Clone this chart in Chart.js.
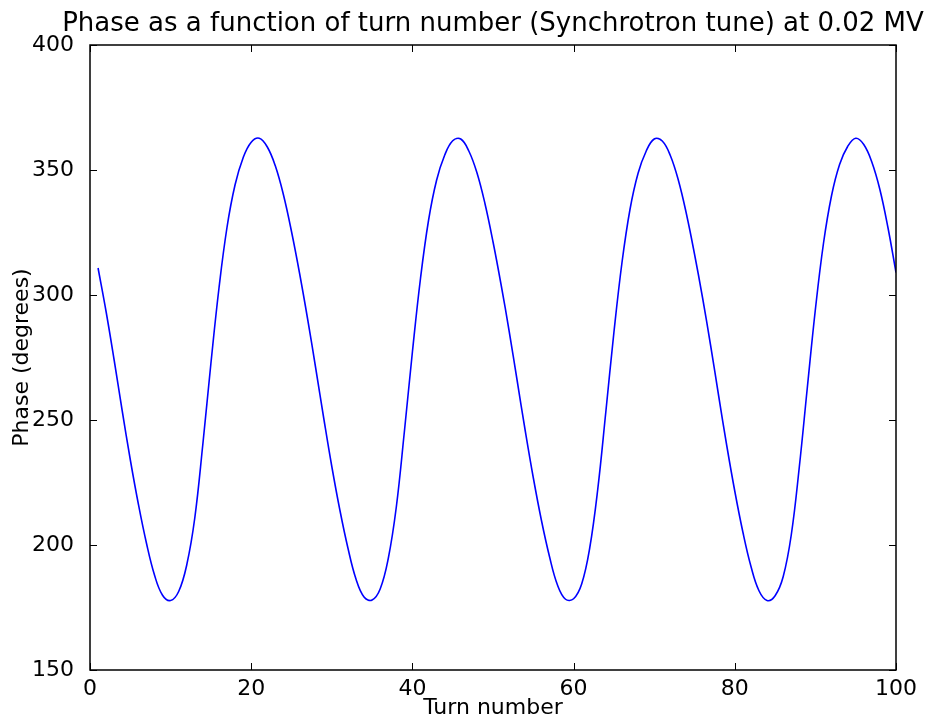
<!DOCTYPE html>
<html><head><meta charset="utf-8">
<script src="https://cdn.jsdelivr.net/npm/chart.js@4/dist/chart.umd.min.js"></script>
<style>html,body{margin:0;padding:0;background:#fff;overflow:hidden}</style>
</head><body>
<canvas id="c" width="927" height="719"></canvas>
<script>
const turns = [1,2,3,4,5,6,7,8,9,10,11,12,13,14,15,16,17,18,19,20,
  21,22,23,24,25,26,27,28,29,30,31,32,33,34,35,36,37,38,39,40,
  41,42,43,44,45,46,47,48,49,50,51,52,53,54,55,56,57,58,59,60,
  61,62,63,64,65,66,67,68,69,70,71,72,73,74,75,76,77,78,79,80,
  81,82,83,84,85,86,87,88,89,90,91,92,93,94,95,96,97,98,99,100];
const phase = [310.8,293.3,273.9,253.6,234.1,216.4,200.8,188.0,179.9,177.8,
  181.4,192.0,210.8,240.3,272.6,302.7,327.1,344.1,354.9,361.1,
  362.7,359.2,351.6,340.1,325.4,308.7,290.4,270.8,250.7,231.4,
  214.0,198.8,186.4,179.2,178.0,182.4,194.5,215.1,245.2,277.2,
  306.5,329.8,345.9,355.9,361.7,362.4,357.6,349.0,336.6,321.3,
  304.2,285.6,265.7,245.7,226.9,210.0,195.5,184.0,178.3,178.5,
  184.4,198.8,222.4,253.3,285.0,312.9,334.3,348.7,357.5,362.4,
  361.6,355.8,345.9,332.4,316.4,298.9,279.8,259.6,239.8,221.5,
  205.2,191.5,181.7,177.8,179.7,187.3,203.9,231.1,263.0,294.3,
  320.6,339.7,352.2,359.4,362.7,360.2,353.2,342.2,327.0,309.0];
const xTicks = [0,20,40,60,80,100];
const yTicks = [150,200,250,300,350,400];
const titleText = 'Phase as a function of turn number (Synchrotron tune) at 0.02 MV';
const xLabel = 'Turn number';
const yLabel = 'Phase (degrees)';

const FONT = '"DejaVu Sans", "Bitstream Vera Sans", sans-serif';
Chart.defaults.font.family = FONT;
Chart.defaults.color = '#000';

const framePlugin = {
  id: 'frame',
  afterDatasetsDraw(chart) {
    const {ctx, chartArea: a, scales: {x, y}} = chart;
    ctx.save();
    ctx.strokeStyle = '#000';
    ctx.lineWidth = 1;
    const L = 7;
    ctx.beginPath();
    xTicks.forEach(v => {
      const px = Math.round(x.getPixelForValue(v)) + 0.5;
      ctx.moveTo(px, a.bottom); ctx.lineTo(px, a.bottom - L);
      ctx.moveTo(px, a.top); ctx.lineTo(px, a.top + L);
    });
    yTicks.forEach(v => {
      const py = Math.round(y.getPixelForValue(v)) + 0.5;
      ctx.moveTo(a.left, py); ctx.lineTo(a.left + L, py);
      ctx.moveTo(a.right, py); ctx.lineTo(a.right - L, py);
    });
    ctx.stroke();
    ctx.lineWidth = 1.5;
    ctx.strokeRect(a.left, a.top, a.right - a.left, a.bottom - a.top);
    ctx.fillStyle = '#000';
    ctx.font = '26px ' + FONT;
    ctx.textAlign = 'center';
    ctx.textBaseline = 'alphabetic';
    ctx.fillText(titleText, (a.left + a.right) / 2, 31);
    ctx.restore();
  }
};

new Chart(document.getElementById('c'), {
  type: 'line',
  data: {
    datasets: [{
      data: turns.map((t, i) => ({x: t, y: phase[i]})),
      borderColor: '#0000ff',
      borderWidth: 1.6,
      pointRadius: 0,
      tension: 0.4,
      fill: false
    }]
  },
  options: {
    responsive: false,
    animation: false,
    devicePixelRatio: 1,
    layout: {padding: {top: 45, right: 31, left: 0, bottom: 0}},
    plugins: {legend: {display: false}, tooltip: {enabled: false}, title: {display: false}},
    scales: {
      x: {
        type: 'linear', min: 0, max: 100,
        afterBuildTicks: s => { s.ticks = xTicks.map(v => ({value: v})); },
        afterFit: s => { s.height = 49; },
        grid: {display: false}, border: {display: false},
        ticks: {font: {size: 22, lineHeight: 1.0}, padding: 0, maxRotation: 0, autoSkip: false, color: '#000'},
        title: {display: true, text: xLabel, font: {size: 22, lineHeight: 1}, padding: {top: 0, bottom: 0}, color: '#000'}
      },
      y: {
        type: 'linear', min: 150, max: 400,
        afterBuildTicks: s => { s.ticks = yTicks.map(v => ({value: v})); },
        afterFit: s => { s.width = 90; },
        grid: {display: false}, border: {display: false},
        ticks: {font: {size: 22}, padding: 8, autoSkip: false, color: '#000'},
        title: {display: true, text: yLabel, font: {size: 22, lineHeight: 1}, padding: {top: 11, bottom: 0}, color: '#000'}
      }
    }
  },
  plugins: [framePlugin]
});
</script>
</body></html>
